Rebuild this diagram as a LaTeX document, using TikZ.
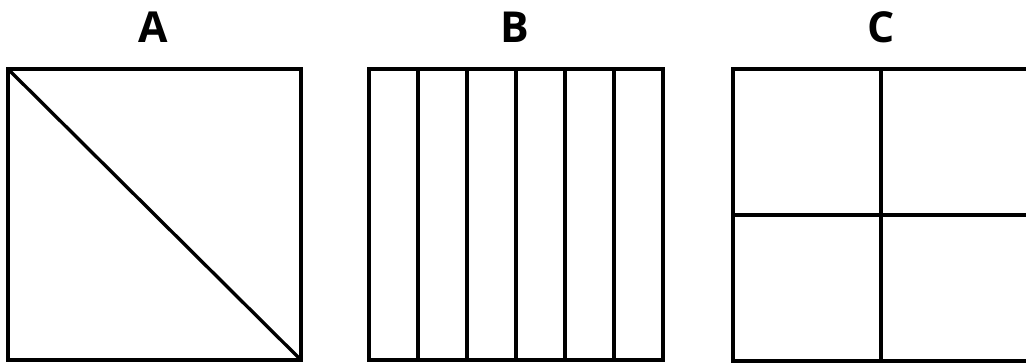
\documentclass[tikz,border=0pt]{standalone}
\usepackage{fontspec}
\setmainfont{Open Sans}
\usetikzlibrary{positioning}

\tikzset{
  panel/.style={draw,line width=2.6pt},
  split/.style={line width=2.5pt},
  caption/.style={font=\fontsize{32}{35}\selectfont\bfseries,inner sep=0pt}
}

\begin{document}
\begin{tikzpicture}[x=0.75pt,y=-0.75pt]
\clip (0,0) rectangle (1026,364);
\useasboundingbox (0,0) rectangle (1026,364);
% labels
\node[caption] (labA) at (153,27) {A};
\node[caption] (labB) at (515,27) {B};
\node[caption] (labC) at (881,27) {C};
% A: one diagonal
\draw[panel] (8,69) rectangle (301,360);
\draw[split] (8,69) -- (301,360);
% B: six strips
\draw[panel] (369,69) rectangle (663,360);
\foreach \x in {418,467,516,565,614}
  \draw[split] (\x,69) -- (\x,360);
% C: four quarters
\draw[panel] (733,69) rectangle (1029,361);
\draw[split] (881,69) -- (881,361);
\draw[split] (733,215) -- (1029,215);
\end{tikzpicture}
\end{document}
